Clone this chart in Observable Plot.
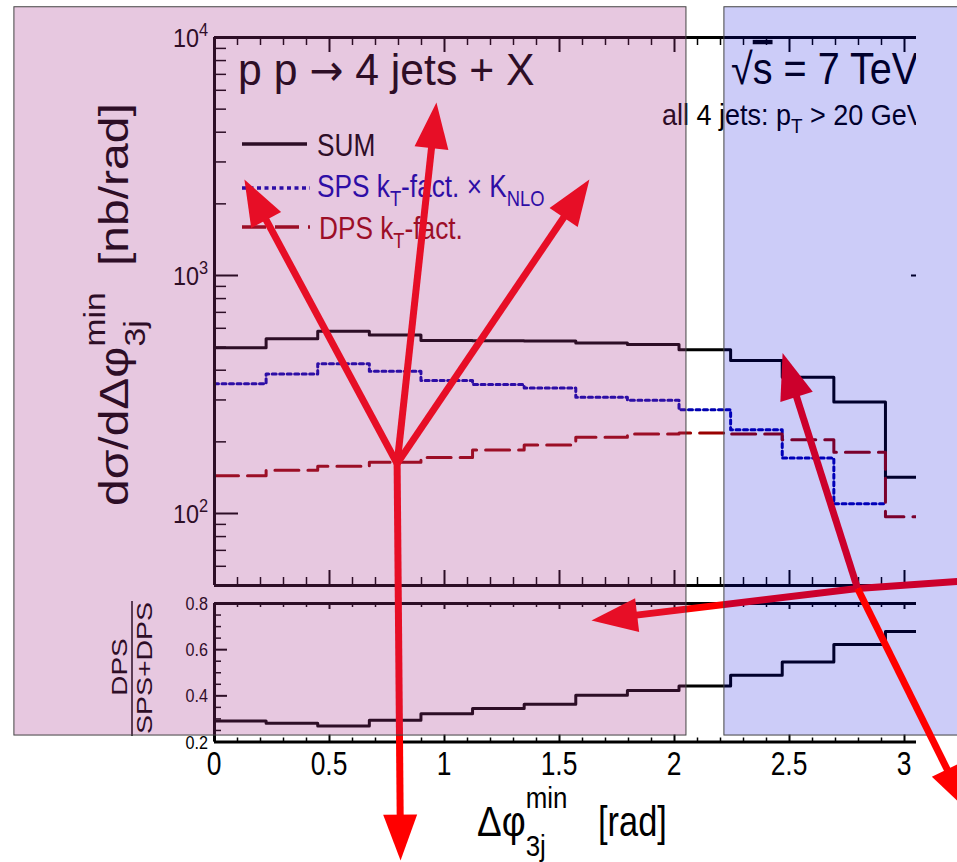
<!DOCTYPE html>
<html><head><meta charset="utf-8">
<script src="https://cdn.jsdelivr.net/npm/d3@7"></script>
<script src="https://cdn.jsdelivr.net/npm/@observablehq/plot@0.6"></script>
<style>
html,body{margin:0;padding:0;background:#fff;}
#chart{position:relative;width:957px;height:862px;overflow:hidden;}
#chart svg{position:absolute;left:0;top:0;overflow:hidden !important;background:transparent !important;max-width:none !important;}
</style></head><body><div id="chart"></div>
<script>
// ---------------- data ----------------
const binEdges = [0, 0.2244, 0.4488, 0.6732, 0.8976, 1.1220, 1.3464, 1.5708, 1.7952, 2.0196, 2.2440, 2.4684, 2.6928, 2.9172, 3.1416];
const sumValues = [497, 542, 583, 563, 533, 532, 530, 520, 513, 487, 439, 374, 294, 142];
const spsValues = [351, 386, 426, 396, 362, 348, 337, 308, 299, 273, 225, 171, 110, null];
const dpsValues = [144, 152, 158, 164, 172, 185, 194, 209, 216, 218, 216, 204, 181, 97];
const ratioValues = [0.291, 0.281, 0.269, 0.294, 0.322, 0.345, 0.364, 0.403, 0.423, 0.443, 0.489, 0.547, 0.622, 0.679];

const xTicks = [0, 0.5, 1, 1.5, 2, 2.5, 3];
const xTickLabels = ["0", "0.5", "1", "1.5", "2", "2.5", "3"];
const yTicks = [100, 1000, 10000];
const yTickExponents = ["2", "3", "4"];
const ratioTicks = [0.2, 0.4, 0.6, 0.8];
const ratioTickLabels = ["0.2", "0.4", "0.6", "0.8"];
const legendLabels = ["SUM", "SPS", "DPS"];

// annotation arrows (tail -> tip) in chart units (rad, nb/rad)
const arrowX1 = [0.794, 0.794, 0.794, 0.794, 2.796, 2.796, 2.796, 2.796];
const arrowY1 = [162, 162, 162, 162, 48.4, 48.4, 48.4, 48.4];
const arrowX2 = [0.130, 0.965, 1.630, 0.809, 2.470, 1.639, 3.230, 3.274];
const arrowY2 = [2532, 5333, 2532, 3.48, 472, 35.5, 51.8, 5.65];
const arrowHasHead = [true, true, true, true, true, true, false, true];
const arrowOnTop = [false, false, false, false, false, false, false, true];
// highlight zones in chart units
const zoneX1 = [-0.870, 2.217];
const zoneX2 = [2.052, 3.300];
const zoneY1 = [11.67, 11.67];
const zoneY2 = [13400, 13400];

// ---------------- layout & style ----------------
const W = 957, H = 862, RIGHT = 916, X0 = 214, KX = 230;
const UP_TOP = 37, UP_BOTTOM = 585, DECADE = 238;
const POS100 = UP_TOP + 2 * DECADE;
const R_TOP = 603, R_BOTTOM = 741.5;
const FONT = '"Liberation Sans", Arial, Helvetica, sans-serif';
const SPS_COLOR = "#0000b0", DPS_COLOR = "#990000", ARROW = "#ff0000";
const ZONE_FILL = ["#a8348b", "#0000dc"], ZONE_OP = [0.27, 0.2];

const xDomain = [0, (RIGHT - X0) / KX];
const yUpperMin = Math.pow(10, 2 - (UP_BOTTOM - POS100) / DECADE);
const fwU = RIGHT - X0, fhU = UP_BOTTOM - UP_TOP, fhR = R_BOTTOM - R_TOP;
const xMinor = d3.range(1, 31).filter(i => i % 5).map(i => i / 10);
const yMinor = [50, 60, 70, 80, 90, 200, 300, 400, 500, 600, 700, 800, 900, 2000, 3000, 4000, 5000, 6000, 7000, 8000, 9000];
const rMinor = [0.25, 0.3, 0.35, 0.45, 0.5, 0.55, 0.65, 0.7, 0.75];

function steps(vals) {
  const pts = [];
  vals.forEach((v, i) => {
    if (v == null) { pts.push({x: binEdges[i], y: NaN}); return; }
    pts.push({x: binEdges[i], y: v}, {x: binEdges[i + 1], y: v});
  });
  return pts;
}

const root = document.getElementById("chart");

function rich(svg, x, y, parts, o = {}) {
  const size = o.size;
  const t = d3.select(svg).append("text")
    .attr("transform", `translate(${x},${y}) scale(${o.sx ?? 1},1)${o.rotate ? ` rotate(${o.rotate})` : ""}`)
    .attr("font-family", FONT).attr("font-size", size)
    .attr("fill", o.fill || "#000").attr("text-anchor", o.anchor || "start")
    .style("white-space", "pre");
  let shift = 0, last = 0;
  for (const p of parts) {
    const small = p.sub || p.sup;
    const fs = small ? size * (p.k || 0.7) : size * (p.k || 1);
    const off = (p.off != null ? p.off : p.sub ? 0.28 : p.sup ? -0.42 : 0) * size;
    const ts = t.append("tspan").attr("font-size", fs).attr("dy", off - shift).text(p.t);
    if (p.font) ts.attr("font-family", p.font);
    if (p.back) ts.attr("dx", -last);
    if (p.overline) ts.style("text-decoration", "overline");
    shift = off;
    last = ts.node().getComputedTextLength();
  }
  return t;
}

// ---------------- upper panel ----------------
const upper = Plot.plot({
  width: RIGHT, height: H,
  marginLeft: X0, marginRight: 0, marginTop: UP_TOP, marginBottom: H - UP_BOTTOM,
  style: {background: "transparent", overflow: "hidden"},
  x: {domain: xDomain, axis: null},
  y: {type: "log", domain: [yUpperMin, 1e4], axis: null},
  marks: [
    Plot.line(steps(sumValues), {x: "x", y: "y", stroke: "#000", strokeWidth: 3, clip: true}),
    Plot.line(steps(spsValues), {x: "x", y: "y", stroke: SPS_COLOR, strokeWidth: 3, strokeDasharray: "4,3.5", clip: true}),
    Plot.line(steps(dpsValues), {x: "x", y: "y", stroke: DPS_COLOR, strokeWidth: 3, strokeDasharray: "24,9", clip: true}),
    Plot.ruleY([1e4], {strokeWidth: 3}),
    Plot.ruleY([yUpperMin], {strokeWidth: 3}),
    Plot.ruleX([0], {strokeWidth: 3}),
    Plot.tickX(xTicks, {insetBottom: fhU - 15, strokeWidth: 2}),
    Plot.tickX(xMinor, {insetBottom: fhU - 8, strokeWidth: 1.5}),
    Plot.tickX(xTicks, {insetTop: fhU - 15, strokeWidth: 2}),
    Plot.tickX(xMinor, {insetTop: fhU - 8, strokeWidth: 1.5}),
    Plot.tickY(yTicks, {insetRight: fwU - 24, strokeWidth: 2}),
    Plot.tickY(yMinor, {insetRight: fwU - 12, strokeWidth: 1.5}),
    Plot.tickY([1000], {insetLeft: fwU - 5, strokeWidth: 2})
  ]
});
root.appendChild(upper);
{
  const ys = upper.scale("y");
  yTicks.forEach((v, i) => rich(upper, 208, ys.apply(v) + 10, [{t: "10"}, {t: yTickExponents[i], sup: true}], {size: 26, anchor: "end", sx: 0.9}));
  rich(upper, 238, 85, [{t: "p p "}, {t: "\u2192", font: '"DejaVu Sans", sans-serif', k: 0.95}, {t: " 4 jets + X"}], {size: 45, sx: 0.95});
  rich(upper, 731, 84, [{t: "\u221A"}, {t: "s", overline: true}, {t: " = 7 TeV"}], {size: 44, sx: 0.9});
  rich(upper, 662, 125, [{t: "all 4 jets: p"}, {t: "T", sub: true}, {t: " > 20 GeV"}], {size: 30, sx: 0.9});
  // legend
  const g = d3.select(upper).append("g");
  g.append("line").attr("x1", 242).attr("x2", 307).attr("y1", 144).attr("y2", 144).attr("stroke", "#000").attr("stroke-width", 3.5);
  g.append("line").attr("x1", 242).attr("x2", 310).attr("y1", 188).attr("y2", 188).attr("stroke", SPS_COLOR).attr("stroke-width", 3.5).attr("stroke-dasharray", "4,3.5");
  g.append("line").attr("x1", 242).attr("x2", 310).attr("y1", 227).attr("y2", 227).attr("stroke", DPS_COLOR).attr("stroke-width", 3.5).attr("stroke-dasharray", "24,9");
  rich(upper, 317, 156, [{t: legendLabels[0]}], {size: 32, sx: 0.82});
  rich(upper, 317, 197, [{t: legendLabels[1] + " k"}, {t: "T", sub: true}, {t: "-fact. \u00D7 K"}, {t: "NLO", sub: true}], {size: 32, sx: 0.82, fill: SPS_COLOR});
  rich(upper, 319, 239, [{t: legendLabels[2] + " k"}, {t: "T", sub: true}, {t: "-fact."}], {size: 32, sx: 0.82, fill: DPS_COLOR});
  // y title
  rich(upper, 128, 506, [{t: "d\u03C3/d\u0394\u03C6"}, {t: "3j", sub: true, off: 0.4}, {t: "min", sup: true, back: true, off: -0.55}], {size: 48, sx: 0.86, rotate: -90});
  rich(upper, 128, 266, [{t: "[nb/rad]"}], {size: 48, sx: 0.86, rotate: -90});
}

// ---------------- ratio panel ----------------
const ratio = Plot.plot({
  width: RIGHT, height: H,
  marginLeft: X0, marginRight: 0, marginTop: R_TOP, marginBottom: H - R_BOTTOM,
  style: {background: "transparent", overflow: "hidden"},
  x: {domain: xDomain, axis: null},
  y: {domain: [0.2, 0.8], axis: null},
  marks: [
    Plot.line(steps(ratioValues), {x: "x", y: "y", stroke: "#000", strokeWidth: 3, clip: true}),
    Plot.ruleY([0.8], {strokeWidth: 3}),
    Plot.ruleY([0.2], {strokeWidth: 3}),
    Plot.ruleX([0], {strokeWidth: 3}),
    Plot.tickX(xTicks, {insetBottom: fhR - 6, strokeWidth: 2}),
    Plot.tickX(xMinor, {insetBottom: fhR - 4, strokeWidth: 1.5}),
    Plot.tickX(xTicks, {insetTop: fhR - 7, strokeWidth: 2}),
    Plot.tickX(xMinor, {insetTop: fhR - 4, strokeWidth: 1.5}),
    Plot.tickY(ratioTicks, {insetRight: fwU - 13, strokeWidth: 2}),
    Plot.tickY(rMinor, {insetRight: fwU - 7, strokeWidth: 1.5})
  ]
});
root.appendChild(ratio);
{
  const xs = ratio.scale("x"), ys = ratio.scale("y");
  xTicks.forEach((v, i) => rich(ratio, xs.apply(v), 775, [{t: xTickLabels[i]}], {size: 33, anchor: "middle", sx: 0.8}));
  ratioTicks.forEach((v, i) => rich(ratio, 208, ys.apply(v) + 7, [{t: ratioTickLabels[i]}], {size: 19, anchor: "end", sx: 0.85}));
  rich(ratio, 477, 836, [{t: "\u0394\u03C6"}, {t: "3j", sub: true, off: 0.48}, {t: "min", sup: true, back: true, off: -0.66}], {size: 42, sx: 0.88});
  rich(ratio, 598, 836, [{t: "[rad]"}], {size: 43, sx: 0.8});
  // fraction label
  rich(ratio, 127, 667, [{t: "DPS"}], {size: 28, sx: 0.8, rotate: -90, anchor: "middle"});
  d3.select(ratio).append("line").attr("x1", 132).attr("x2", 132).attr("y1", 601).attr("y2", 736).attr("stroke", "#000").attr("stroke-width", 1.5);
  rich(ratio, 152, 668, [{t: "SPS+DPS"}], {size: 28.5, sx: 0.8, rotate: -90, anchor: "middle"});
}

// ---------------- overlay: zones + arrows ----------------
const oxDomain = [(0 - X0) / KX, (W - X0) / KX];
const oyDomain = [Math.pow(10, 2 - (H - POS100) / DECADE), Math.pow(10, 2 + POS100 / DECADE)];
const oxs = d3.scaleLinear().domain(oxDomain).range([0, W]);
const oys = d3.scaleLog().domain(oyDomain).range([H, 0]);
const HEAD_LEN = 46, HEAD_HALF = 17;
const shafts = [], heads = [];
arrowX1.forEach((_, i) => {
  const sx = oxs(arrowX1[i]), sy = oys(arrowY1[i]), tx = oxs(arrowX2[i]), ty = oys(arrowY2[i]);
  const L = Math.hypot(tx - sx, ty - sy), ux = (tx - sx) / L, uy = (ty - sy) / L;
  const back = arrowHasHead[i] ? HEAD_LEN * 0.8 : 0;
  shafts.push({top: arrowOnTop[i], x1: arrowX1[i], y1: arrowY1[i], x2: oxs.invert(tx - ux * back), y2: oys.invert(ty - uy * back)});
  if (arrowHasHead[i]) {
    const bx = tx - ux * HEAD_LEN, by = ty - uy * HEAD_LEN, nx = -uy, ny = ux;
    [[tx, ty], [bx + nx * HEAD_HALF, by + ny * HEAD_HALF], [bx - nx * HEAD_HALF, by - ny * HEAD_HALF]]
      .forEach(([px, py]) => heads.push({id: i, top: arrowOnTop[i], x: oxs.invert(px), y: oys.invert(py)}));
  }
});
const zones = zoneX1.map((_, i) => ({i, x1: zoneX1[i], x2: zoneX2[i], y1: zoneY1[i], y2: zoneY2[i]}));
const overlay = Plot.plot({
  width: W, height: H, margin: 0,
  style: {background: "transparent", overflow: "hidden"},
  x: {domain: oxDomain, axis: null},
  y: {type: "log", domain: oyDomain, axis: null},
  marks: [
    Plot.link(shafts.filter(d => !d.top), {x1: "x1", y1: "y1", x2: "x2", y2: "y2", stroke: ARROW, strokeWidth: 7}),
    Plot.line(heads.filter(d => !d.top), {x: "x", y: "y", z: "id", fill: ARROW, stroke: "none", curve: "linear-closed"}),
    Plot.rect(zones, {x1: "x1", x2: "x2", y1: "y1", y2: "y2", fill: d => ZONE_FILL[d.i], fillOpacity: d => ZONE_OP[d.i], stroke: "#444", strokeWidth: 1}),
    Plot.link(shafts.filter(d => d.top), {x1: "x1", y1: "y1", x2: "x2", y2: "y2", stroke: ARROW, strokeWidth: 7}),
    Plot.line(heads.filter(d => d.top), {x: "x", y: "y", z: "id", fill: ARROW, stroke: "none", curve: "linear-closed"})
  ]
});
root.appendChild(overlay);
</script>
</body></html>
